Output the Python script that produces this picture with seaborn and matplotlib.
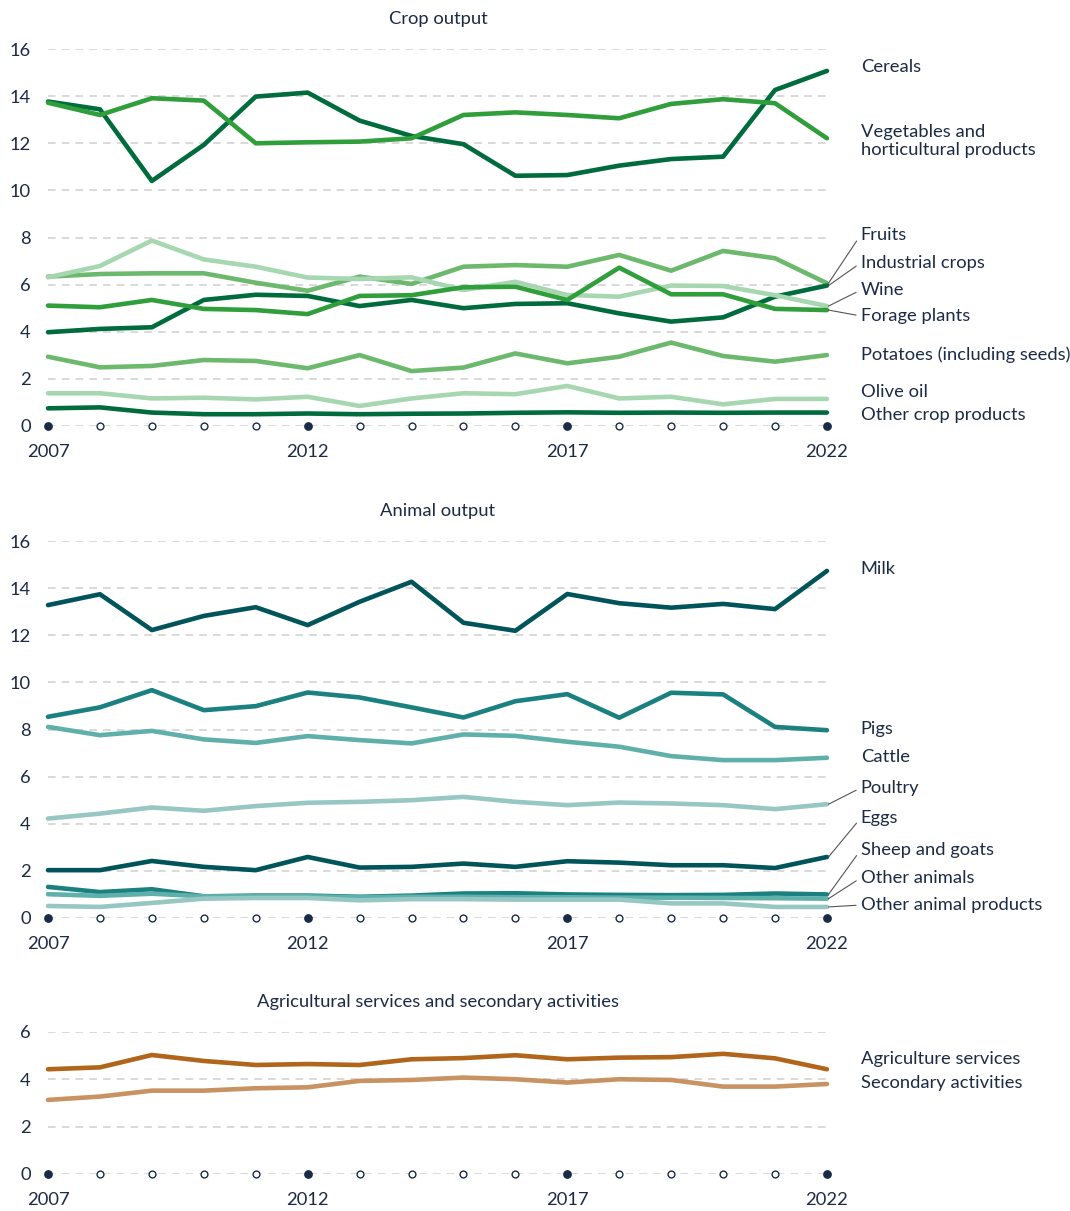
import matplotlib
matplotlib.use("Agg")
import matplotlib.pyplot as plt
import numpy as np
import pandas as pd
import seaborn as sns

YEARS = list(range(2007, 2023))
TICK_YEARS = [2007, 2012, 2017, 2022]

# --- Crop output (share, %) ---
CROP_NAMES = [
    "Cereals",
    "Vegetables and\nhorticultural products",
    "Fruits",
    "Industrial crops",
    "Wine",
    "Forage plants",
    "Potatoes (including seeds)",
    "Olive oil",
    "Other crop products",
]
cereals = [13.77, 13.44, 10.40, 11.93, 13.98, 14.15, 12.96, 12.31, 11.96, 10.62, 10.65, 11.05, 11.33, 11.43, 14.26, 15.07]
vegetables = [13.72, 13.20, 13.91, 13.81, 12.00, 12.04, 12.07, 12.21, 13.20, 13.31, 13.20, 13.06, 13.67, 13.87, 13.70, 12.21]
fruits = [6.34, 6.45, 6.48, 6.48, 6.08, 5.74, 6.34, 6.03, 6.76, 6.83, 6.76, 7.26, 6.59, 7.43, 7.12, 6.06]
industrial = [3.98, 4.12, 4.19, 5.35, 5.57, 5.52, 5.09, 5.35, 5.00, 5.18, 5.21, 4.78, 4.43, 4.61, 5.49, 5.96]
wine = [6.31, 6.79, 7.87, 7.07, 6.76, 6.30, 6.24, 6.31, 5.77, 6.12, 5.56, 5.49, 5.96, 5.94, 5.55, 5.09]
forage = [5.11, 5.04, 5.35, 4.97, 4.92, 4.75, 5.52, 5.55, 5.89, 5.91, 5.35, 6.72, 5.59, 5.59, 4.97, 4.92]
potatoes = [2.94, 2.49, 2.55, 2.80, 2.76, 2.45, 3.01, 2.33, 2.48, 3.08, 2.66, 2.94, 3.54, 2.97, 2.73, 3.01]
olive_oil = [1.39, 1.39, 1.17, 1.20, 1.13, 1.24, 0.85, 1.17, 1.39, 1.35, 1.70, 1.17, 1.24, 0.92, 1.15, 1.15]
other_crop = [0.75, 0.79, 0.57, 0.50, 0.50, 0.53, 0.50, 0.52, 0.53, 0.56, 0.58, 0.56, 0.57, 0.56, 0.57, 0.57]
CROP_VALUES = [cereals, vegetables, fruits, industrial, wine, forage, potatoes, olive_oil, other_crop]
CROP_COLORS = ["#006b3c", "#2f9e3b", "#6cb96d", "#006b3c", "#a7d7b1", "#2f9e3b", "#6cb96d", "#a7d7b1", "#006b3c"]

# --- Animal output ---
ANIMAL_NAMES = [
    "Milk",
    "Pigs",
    "Cattle",
    "Poultry",
    "Eggs",
    "Sheep and goats",
    "Other animals",
    "Other animal products",
]
milk = [13.28, 13.74, 12.22, 12.82, 13.19, 12.43, 13.42, 14.27, 12.53, 12.19, 13.75, 13.36, 13.17, 13.33, 13.11, 14.73]
pigs = [8.54, 8.94, 9.67, 8.82, 8.99, 9.57, 9.36, 8.94, 8.51, 9.20, 9.50, 8.50, 9.56, 9.49, 8.11, 7.97]
cattle = [8.11, 7.76, 7.94, 7.58, 7.43, 7.72, 7.55, 7.41, 7.79, 7.73, 7.48, 7.27, 6.87, 6.70, 6.70, 6.80]
poultry = [4.22, 4.43, 4.69, 4.55, 4.75, 4.89, 4.93, 5.00, 5.14, 4.93, 4.79, 4.90, 4.86, 4.79, 4.62, 4.83]
eggs = [2.03, 2.03, 2.42, 2.17, 2.03, 2.59, 2.14, 2.17, 2.31, 2.17, 2.41, 2.35, 2.24, 2.24, 2.12, 2.59]
sheep_goats = [1.32, 1.10, 1.22, 0.92, 0.95, 0.95, 0.90, 0.95, 1.04, 1.05, 1.00, 0.98, 0.97, 0.98, 1.04, 1.00]
other_animals = [1.01, 0.94, 1.03, 0.92, 0.92, 0.92, 0.88, 0.90, 0.90, 0.88, 0.88, 0.86, 0.86, 0.85, 0.84, 0.82]
other_animal_products = [0.51, 0.47, 0.64, 0.82, 0.85, 0.85, 0.75, 0.80, 0.80, 0.78, 0.78, 0.78, 0.62, 0.62, 0.47, 0.47]
ANIMAL_VALUES = [milk, pigs, cattle, poultry, eggs, sheep_goats, other_animals, other_animal_products]
ANIMAL_COLORS = ["#00545a", "#1b8080", "#5fb0ab", "#96c7c3", "#00545a", "#1b8080", "#5fb0ab", "#96c7c3"]

# --- Agricultural services and secondary activities ---
SERVICE_NAMES = ["Agriculture services", "Secondary activities"]
agri_services = [4.41, 4.49, 5.01, 4.76, 4.59, 4.63, 4.59, 4.83, 4.88, 5.00, 4.83, 4.90, 4.92, 5.06, 4.87, 4.41]
secondary = [3.12, 3.26, 3.51, 3.51, 3.61, 3.65, 3.92, 3.96, 4.06, 3.99, 3.85, 3.99, 3.96, 3.68, 3.68, 3.79]
SERVICE_VALUES = [agri_services, secondary]
SERVICE_COLORS = ["#b0651a", "#c89262"]

# label placement (data y of the right-hand labels) and which ones get a leader line
CROP_LABEL_Y = [15.24, 12.10, 8.11, 6.92, 5.77, 4.67, 3.01, 1.44, 0.47]
CROP_LEADERS = {"Fruits", "Industrial crops", "Wine", "Forage plants"}
ANIMAL_LABEL_Y = [14.81, 8.02, 6.83, 5.52, 4.24, 2.89, 1.70, 0.55]
ANIMAL_LEADERS = {"Poultry", "Eggs", "Sheep and goats", "Other animals", "Other animal products"}
SERVICE_LABEL_Y = [4.85, 3.84]

TEXT_COLOR = "#1c2b45"
GRID_COLOR = "#cfcfcf"
LABEL_X = 2022.65
FONT_SIZE = 13.2

sns.set_style("white")
plt.rcParams["font.family"] = ["Lato", "DejaVu Sans"]
plt.rcParams["text.color"] = TEXT_COLOR


def long_frame(names, values):
    records = []
    for name, vals in zip(names, values):
        for year, v in zip(YEARS, vals):
            records.append({"year": year, "value": v, "series": name})
    return pd.DataFrame(records)


def draw_panel(ax, title, names, values, colors, yticks, label_y, leaders):
    df = long_frame(names, values)
    sns.lineplot(data=df, x="year", y="value", hue="series", hue_order=names,
                 palette=dict(zip(names, colors)), linewidth=3.3, legend=False,
                 ax=ax, solid_capstyle="round", clip_on=False)

    ax.set_xlim(2006.99, 2022.03)
    ax.set_ylim(0, yticks[-1])
    ax.set_yticks(yticks)
    ax.set_xticks(TICK_YEARS)
    ax.set_xticklabels([str(y) for y in TICK_YEARS])
    ax.set_xlabel("")
    ax.set_ylabel("")
    for s in ax.spines.values():
        s.set_visible(False)
    ax.grid(False)
    for y in yticks:
        ax.axhline(y, color=GRID_COLOR, lw=1.1, dashes=(5, 4), zorder=0)
    ax.tick_params(axis="both", length=0, labelsize=FONT_SIZE, colors=TEXT_COLOR)
    ax.tick_params(axis="y", pad=12)
    ax.tick_params(axis="x", pad=13)

    # year markers on the baseline
    years = np.array(YEARS)
    filled = np.isin(years, TICK_YEARS)
    ax.scatter(years[~filled], np.zeros((~filled).sum()), s=24, facecolor="white",
               edgecolor=TEXT_COLOR, linewidth=1.0, zorder=5, clip_on=False)
    ax.scatter(years[filled], np.zeros(filled.sum()), s=28, color=TEXT_COLOR,
               zorder=5, clip_on=False)

    ax.set_title(title, fontsize=FONT_SIZE, color=TEXT_COLOR, pad=18)

    for name, vals, ly in zip(names, values, label_y):
        if name in leaders:
            ax.annotate(name, xy=(YEARS[-1] + 0.03, vals[-1]), xytext=(LABEL_X, ly),
                        textcoords="data", ha="left", va="center", fontsize=FONT_SIZE,
                        color=TEXT_COLOR, annotation_clip=False, linespacing=1.2,
                        arrowprops=dict(arrowstyle="-", color="#555555", lw=0.8,
                                        shrinkA=1, shrinkB=0, relpos=(0, 0.5)))
        else:
            ax.text(LABEL_X, ly, name, ha="left", va="center", fontsize=FONT_SIZE,
                    color=TEXT_COLOR, linespacing=1.2, clip_on=False)


W, H = 1070, 1211
fig = plt.figure(figsize=(W / 100, H / 100), dpi=100)
left = 47.5 / W
width = (828.5 - 47.5) / W

ax1 = fig.add_axes([left, (H - 426) / H, width, 377 / H])
ax2 = fig.add_axes([left, (H - 918) / H, width, 377 / H])
ax3 = fig.add_axes([left, (H - 1174) / H, width, 142.5 / H])

draw_panel(ax1, "Crop output", CROP_NAMES, CROP_VALUES, CROP_COLORS,
           list(range(0, 17, 2)), CROP_LABEL_Y, CROP_LEADERS)
draw_panel(ax2, "Animal output", ANIMAL_NAMES, ANIMAL_VALUES, ANIMAL_COLORS,
           list(range(0, 17, 2)), ANIMAL_LABEL_Y, ANIMAL_LEADERS)
draw_panel(ax3, "Agricultural services and secondary activities", SERVICE_NAMES,
           SERVICE_VALUES, SERVICE_COLORS, [0, 2, 4, 6], SERVICE_LABEL_Y, set())

fig.savefig("out.png", dpi=100, facecolor="white")
